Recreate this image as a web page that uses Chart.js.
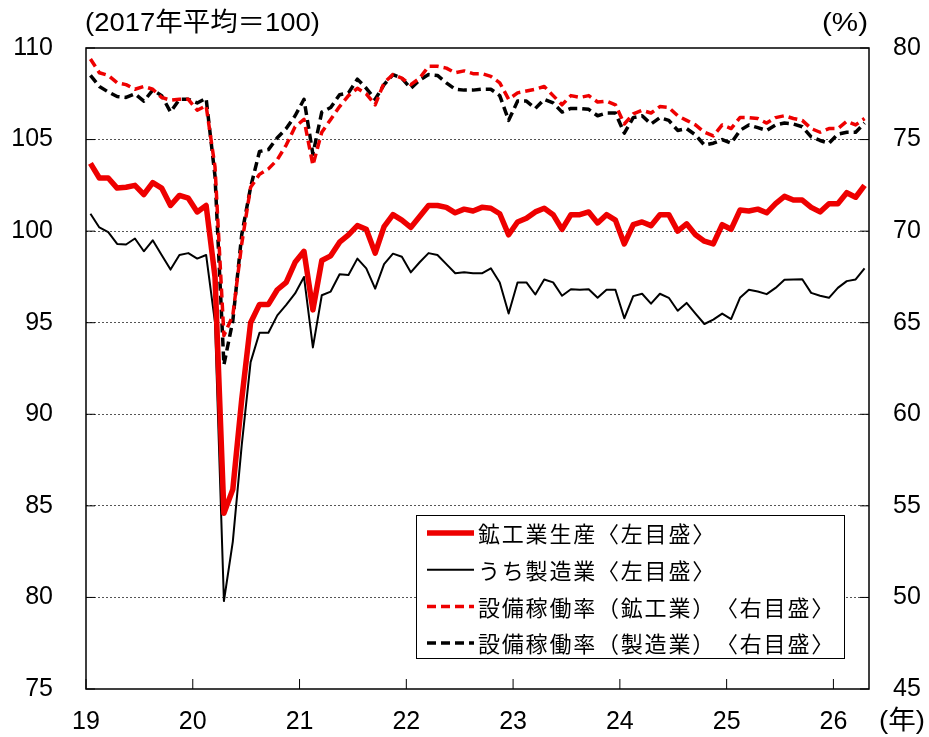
<!DOCTYPE html>
<html>
<head>
<meta charset="utf-8">
<script src="https://cdn.jsdelivr.net/npm/chart.js@4/dist/chart.umd.min.js"></script>
<style>
  body { margin: 0; background: #fff; }
  canvas { display: block; }
</style>
</head>
<body>
<canvas id="prodChart" width="929" height="737"></canvas>
<script>
// monthly, Jan 2019 .. Apr 2026
const yearLabels = ['19', '20', '21', '22', '23', '24', '25', '26'];
const yearTicks = [0, 12, 24, 36, 48, 60, 72, 84];

// 鉱工業生産 (2017=100, left)
const miningProd = [
  103.7, 102.9, 102.9, 102.35, 102.4, 102.5, 102.0, 102.65, 102.35, 101.4,
  101.95, 101.8, 101.05, 101.4, 97.5, 84.6, 85.9, 90.8, 95.0, 96.0,
  96.0, 96.8, 97.2, 98.3, 98.9, 95.7, 98.4, 98.65, 99.4, 99.8,
  100.3, 100.1, 98.8, 100.25, 100.9, 100.6, 100.2, 100.8, 101.4, 101.4,
  101.3, 101.0, 101.2, 101.1, 101.3, 101.25, 100.95, 99.8, 100.5, 100.7,
  101.05, 101.25, 100.9, 100.1, 100.9, 100.9, 101.05, 100.45, 100.9, 100.6,
  99.3, 100.35, 100.5, 100.3, 100.9, 100.9, 100.0, 100.4, 99.8, 99.45,
  99.3, 100.35, 100.1, 101.15, 101.1, 101.2, 101.0, 101.5, 101.9, 101.7,
  101.7, 101.3, 101.05, 101.5, 101.5, 102.1, 101.85, 102.5
];

// うち製造業 (2017=100, left)
const mfgProd = [
  100.95, 100.2, 99.95, 99.3, 99.27, 99.6, 98.9, 99.5, 98.7, 97.9,
  98.7, 98.8, 98.5, 98.7, 95.0, 79.8, 83.05, 88.3, 92.85, 94.45,
  94.45, 95.4, 95.97, 96.6, 97.5, 93.65, 96.5, 96.7, 97.65, 97.6,
  98.5, 97.97, 96.86, 98.2, 98.77, 98.6, 97.75, 98.3, 98.8, 98.7,
  98.2, 97.7, 97.75, 97.7, 97.7, 97.97, 97.2, 95.5, 97.2, 97.2,
  96.54, 97.36, 97.2, 96.47, 96.83, 96.8, 96.83, 96.36, 96.8, 96.8,
  95.24, 96.45, 96.58, 96.04, 96.58, 96.36, 95.65, 96.08, 95.5, 94.93,
  95.17, 95.5, 95.2, 96.36, 96.8, 96.7, 96.56, 96.9, 97.34, 97.36,
  97.37, 96.63, 96.47, 96.36, 96.9, 97.27, 97.36, 97.97
];

// 設備稼働率（鉱工業） % (right)
const utilTotal = [
  79.4, 78.65, 78.5, 78.1, 78.0, 77.75, 77.9, 77.75, 77.3, 77.15,
  77.2, 77.2, 76.6, 76.85, 73.5, 64.3, 65.4, 69.3, 72.4, 73.1,
  73.4, 73.9, 74.7, 75.7, 76.1, 73.6, 75.4, 76.1, 76.8, 77.4,
  77.8, 77.5, 76.9, 78.1, 78.55, 78.35, 78.0, 78.35, 79.0, 79.0,
  78.9, 78.65, 78.75, 78.6, 78.6, 78.45, 78.1, 77.2, 77.55, 77.65,
  77.75, 77.9, 77.4, 76.9, 77.4, 77.3, 77.4, 77.05, 77.1, 76.9,
  75.85, 76.4, 76.6, 76.45, 76.8, 76.75, 76.3, 76.05, 75.8, 75.4,
  75.2, 75.8, 75.6, 76.2, 76.2, 76.15, 75.9, 76.2, 76.3, 76.15,
  76.05, 75.6, 75.4, 75.6, 75.6, 76.0, 75.8, 76.15
];

// 設備稼働率（製造業） % (right)
const utilMfg = [
  78.5, 77.9, 77.6, 77.35, 77.3, 77.5, 77.1, 77.7, 77.4, 76.5,
  77.2, 77.2, 77.0, 77.25, 73.0, 62.7, 65.1, 69.8, 72.4, 74.35,
  74.45, 75.1, 75.6, 76.3, 77.2, 74.2, 76.5, 76.75, 77.45, 77.55,
  78.3, 77.8, 77.2, 78.0, 78.55, 78.35, 77.8, 78.25, 78.55, 78.5,
  78.1, 77.75, 77.7, 77.7, 77.75, 77.75, 77.4, 76.05, 77.1, 77.1,
  76.7, 77.2, 77.0, 76.5, 76.7, 76.7, 76.65, 76.3, 76.45, 76.45,
  75.35, 76.2, 76.3, 75.85, 76.2, 76.05, 75.5, 75.6, 75.25, 74.7,
  74.8, 75.0, 74.8, 75.5, 75.8, 75.65, 75.5, 75.8, 75.9, 75.85,
  75.7, 75.15, 74.95, 74.8, 75.3, 75.4, 75.4, 75.9
];

const RED = '#EE0000';
const NUM_FONT = '"Liberation Sans", Arial, sans-serif';
const JP_FONT = '"Liberation Sans", "Noto Sans CJK JP", sans-serif';

// points sit in the middle of each month
const toPoints = arr => arr.map((v, i) => ({ x: i + 0.5, y: v }));

// draw text stretched to a given width, left edge at x
function fitText(ctx, text, x, y, w, font) {
  ctx.save();
  ctx.font = font;
  ctx.textBaseline = 'middle';
  ctx.textAlign = 'left';
  const k = w / ctx.measureText(text).width;
  ctx.translate(x, y);
  ctx.scale(k, 1);
  ctx.fillStyle = '#000';
  ctx.fillText(text, 0, 0);
  ctx.restore();
}

// frame, inner tick marks, unit labels and the boxed legend
const decorPlugin = {
  id: 'decor',
  afterDraw(chart) {
    const { ctx, chartArea: a, scales } = chart;
    ctx.save();
    ctx.strokeStyle = '#000';
    ctx.lineWidth = 1.5;
    ctx.strokeRect(a.left, a.top, a.right - a.left, a.bottom - a.top);

    ctx.lineWidth = 1;
    ctx.beginPath();
    scales.y.ticks.forEach(t => {
      const y = scales.y.getPixelForValue(t.value);
      ctx.moveTo(a.left, y); ctx.lineTo(a.left + 9, y);
    });
    scales.y2.ticks.forEach(t => {
      const y = scales.y2.getPixelForValue(t.value);
      ctx.moveTo(a.right, y); ctx.lineTo(a.right - 9, y);
    });
    scales.x.ticks.forEach(t => {
      const x = scales.x.getPixelForValue(t.value);
      ctx.moveTo(x, a.bottom); ctx.lineTo(x, a.bottom - 10);
    });
    ctx.stroke();

    fitText(ctx, '(2017年平均＝100)', 85, 24, 235, '26px ' + JP_FONT);
    fitText(ctx, '(%)', 822, 24, 46, '26px ' + JP_FONT);
    fitText(ctx, '(年)', 879, 722, 46, '26px ' + JP_FONT);

    // legend
    const box = { x: 416, y: 515, w: 428, h: 143 };
    ctx.fillStyle = '#fff';
    ctx.fillRect(box.x, box.y, box.w, box.h);
    ctx.strokeStyle = '#000';
    ctx.lineWidth = 1;
    ctx.strokeRect(box.x + 0.5, box.y + 0.5, box.w, box.h);
    ctx.font = '22px "Noto Sans CJK JP", sans-serif';
    ctx.textBaseline = 'middle';
    ctx.textAlign = 'left';
    chart.data.datasets.forEach((ds, i) => {
      const y = 533 + i * 36.7;
      ctx.save();
      ctx.strokeStyle = ds.borderColor;
      ctx.lineWidth = ds.borderWidth;
      ctx.setLineDash(ds.borderDash || []);
      ctx.beginPath();
      ctx.moveTo(427, y); ctx.lineTo(474, y);
      ctx.stroke();
      ctx.restore();
      ctx.fillStyle = '#000';
      // fixed advance per character, like the original's spacing
      Array.from(ds.label).forEach((ch, j) => ctx.fillText(ch, 478 + j * 23.8, y + 1));
    });
    ctx.restore();
  }
};

new Chart(document.getElementById('prodChart').getContext('2d'), {
  type: 'line',
  data: {
    datasets: [
      { label: '鉱工業生産〈左目盛〉', data: toPoints(miningProd), yAxisID: 'y',
        borderColor: RED, borderWidth: 5.5 },
      { label: 'うち製造業〈左目盛〉', data: toPoints(mfgProd), yAxisID: 'y',
        borderColor: '#000', borderWidth: 2 },
      { label: '設備稼働率（鉱工業）〈右目盛〉', data: toPoints(utilTotal), yAxisID: 'y2',
        borderColor: RED, borderWidth: 3.5, borderDash: [9, 5] },
      { label: '設備稼働率（製造業）〈右目盛〉', data: toPoints(utilMfg), yAxisID: 'y2',
        borderColor: '#000', borderWidth: 3.5, borderDash: [9, 5] }
    ]
  },
  options: {
    responsive: false,
    animation: false,
    events: [],
    elements: { point: { radius: 0 }, line: { tension: 0, borderJoinStyle: 'round' } },
    layout: { padding: { top: 41, left: 0, right: 0, bottom: 0 } },
    scales: {
      x: {
        type: 'linear',
        min: 0,
        max: 88,
        afterBuildTicks: s => { s.ticks = yearTicks.map(v => ({ value: v })); },
        afterFit: s => { s.height = 42; },
        grid: { display: false, drawTicks: false },
        border: { display: false },
        ticks: {
          callback: (v, i) => yearLabels[i],
          autoSkip: false,
          maxRotation: 0,
          padding: 18,
          color: '#000',
          font: { family: NUM_FONT, size: 25 }
        }
      },
      y: {
        position: 'left',
        min: 75,
        max: 110,
        afterFit: s => { s.width = 86; },
        grid: {
          drawTicks: false,
          lineWidth: 1,
          color: c => (c.tick.value === 75 || c.tick.value === 110) ? 'rgba(0,0,0,0)' : '#555'
        },
        border: { display: false, dash: [2, 2] },
        ticks: { stepSize: 5, padding: 33, color: '#000', font: { family: NUM_FONT, size: 25 } }
      },
      y2: {
        position: 'right',
        min: 45,
        max: 80,
        afterFit: s => { s.width = 60; },
        grid: { display: false, drawTicks: false },
        border: { display: false },
        ticks: { stepSize: 5, padding: 24, color: '#000', font: { family: NUM_FONT, size: 25 } }
      }
    },
    plugins: {
      legend: { display: false },
      tooltip: { enabled: false }
    }
  },
  plugins: [decorPlugin]
});
</script>
</body>
</html>
